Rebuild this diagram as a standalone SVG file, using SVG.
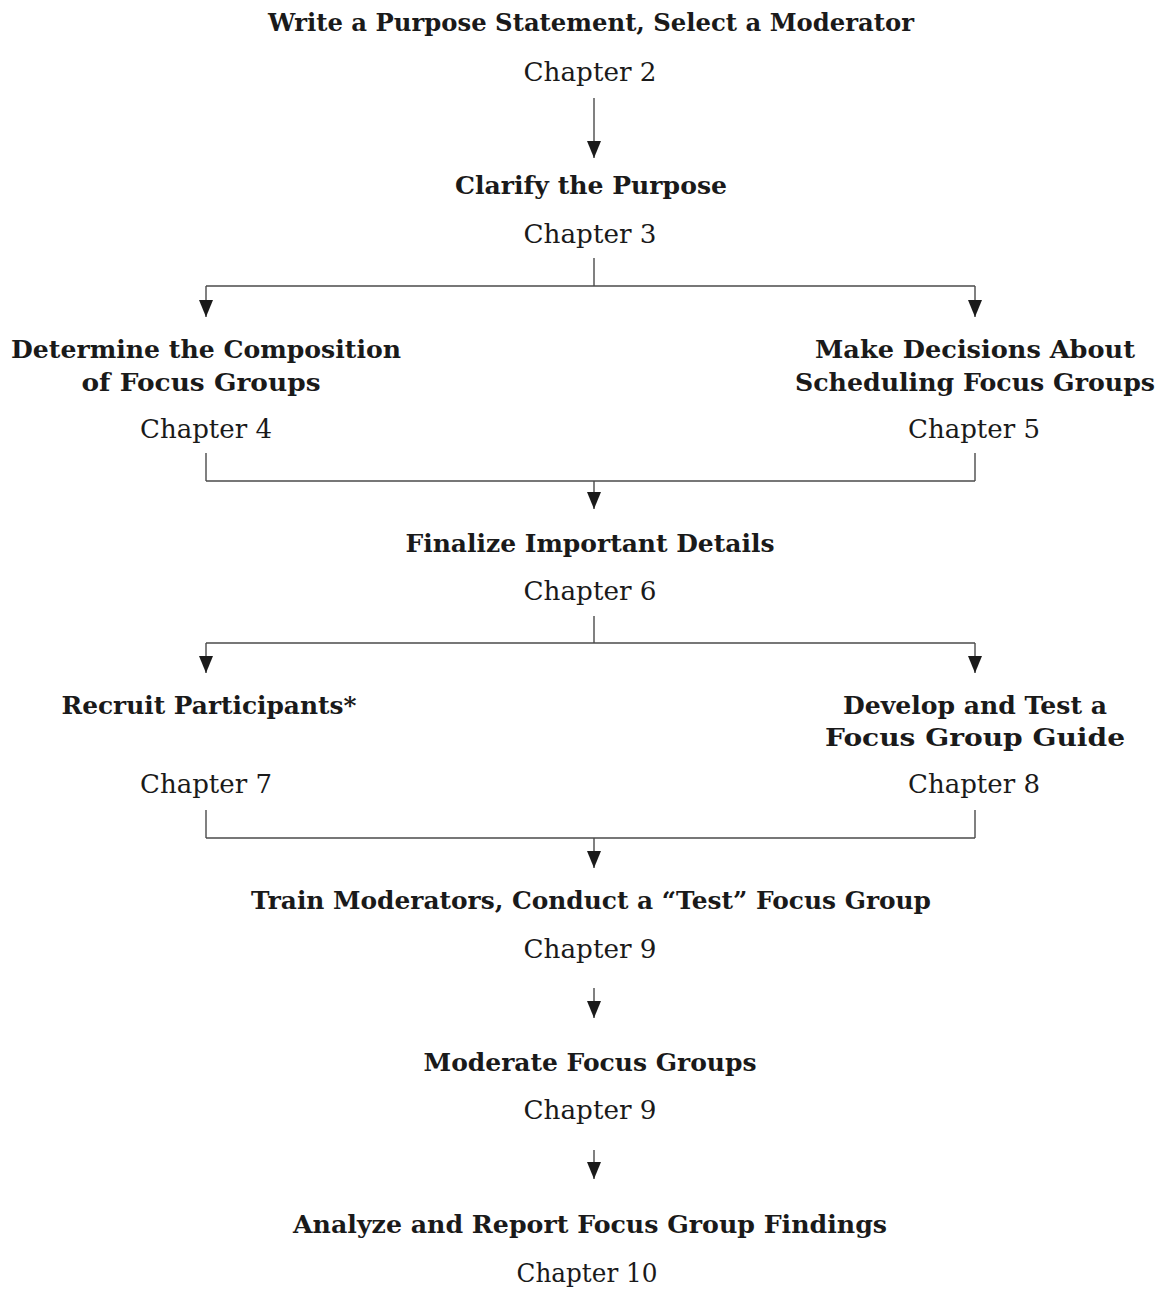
<svg xmlns="http://www.w3.org/2000/svg" width="1164" height="1289" viewBox="0 0 1164 1289">
<style>
.t{font-family:"DejaVu Serif","Liberation Serif",serif;font-weight:bold;font-size:25px;fill:#1a1a1a;text-anchor:middle}
.c{font-family:"DejaVu Serif","Liberation Serif",serif;font-size:26px;fill:#1a1a1a;text-anchor:middle}
.ln{stroke:#4a4a4a;stroke-width:1.4;fill:none}
</style>
<defs>
<marker id="ah" viewBox="0 0 17 14" refX="17" refY="7" markerWidth="17" markerHeight="14" markerUnits="userSpaceOnUse" orient="auto">
<path d="M0,0 L17,7 L0,14 z" fill="#1a1a1a"/>
</marker>
</defs>
<rect width="1164" height="1289" fill="#fff"/>
<g id="connectors">
<line class="ln" x1="594" y1="98" x2="594" y2="158" marker-end="url(#ah)"/>
<line class="ln" x1="594" y1="258" x2="594" y2="286"/>
<line class="ln" x1="206" y1="286" x2="975" y2="286"/>
<line class="ln" x1="206" y1="286" x2="206" y2="317" marker-end="url(#ah)"/>
<line class="ln" x1="975" y1="286" x2="975" y2="317" marker-end="url(#ah)"/>
<line class="ln" x1="206" y1="453" x2="206" y2="481"/>
<line class="ln" x1="975" y1="453" x2="975" y2="481"/>
<line class="ln" x1="206" y1="481" x2="975" y2="481"/>
<line class="ln" x1="594" y1="481" x2="594" y2="509" marker-end="url(#ah)"/>
<line class="ln" x1="594" y1="616" x2="594" y2="643"/>
<line class="ln" x1="206" y1="643" x2="975" y2="643"/>
<line class="ln" x1="206" y1="643" x2="206" y2="673" marker-end="url(#ah)"/>
<line class="ln" x1="975" y1="643" x2="975" y2="673" marker-end="url(#ah)"/>
<line class="ln" x1="206" y1="810" x2="206" y2="838"/>
<line class="ln" x1="975" y1="810" x2="975" y2="838"/>
<line class="ln" x1="206" y1="838" x2="975" y2="838"/>
<line class="ln" x1="594" y1="838" x2="594" y2="868" marker-end="url(#ah)"/>
<line class="ln" x1="594" y1="988" x2="594" y2="1018" marker-end="url(#ah)"/>
<line class="ln" x1="594" y1="1150" x2="594" y2="1179" marker-end="url(#ah)"/>
</g>
<g id="n1">
<text class="t" x="591" y="31" textLength="646" lengthAdjust="spacingAndGlyphs">Write a Purpose Statement, Select a Moderator</text>
<text class="c" x="590" y="81" textLength="133" lengthAdjust="spacingAndGlyphs">Chapter 2</text>
</g>
<g id="n2">
<text class="t" x="591" y="194" textLength="272" lengthAdjust="spacingAndGlyphs">Clarify the Purpose</text>
<text class="c" x="590" y="243" textLength="133" lengthAdjust="spacingAndGlyphs">Chapter 3</text>
</g>
<g id="n3">
<text class="t" x="206" y="358" textLength="390" lengthAdjust="spacingAndGlyphs">Determine the Composition</text>
<text class="t" x="201" y="391" textLength="239" lengthAdjust="spacingAndGlyphs">of Focus Groups</text>
<text class="c" x="206" y="438" textLength="132" lengthAdjust="spacingAndGlyphs">Chapter 4</text>
</g>
<g id="n4">
<text class="t" x="975" y="358" textLength="320" lengthAdjust="spacingAndGlyphs">Make Decisions About</text>
<text class="t" x="975" y="391" textLength="360" lengthAdjust="spacingAndGlyphs">Scheduling Focus Groups</text>
<text class="c" x="974" y="438" textLength="132" lengthAdjust="spacingAndGlyphs">Chapter 5</text>
</g>
<g id="n5">
<text class="t" x="590" y="552" textLength="369" lengthAdjust="spacingAndGlyphs">Finalize Important Details</text>
<text class="c" x="590" y="600" textLength="133" lengthAdjust="spacingAndGlyphs">Chapter 6</text>
</g>
<g id="n6">
<text class="t" x="209" y="714" textLength="295" lengthAdjust="spacingAndGlyphs">Recruit Participants*</text>
<text class="c" x="206" y="793" textLength="132" lengthAdjust="spacingAndGlyphs">Chapter 7</text>
</g>
<g id="n7">
<text class="t" x="975" y="714" textLength="264" lengthAdjust="spacingAndGlyphs">Develop and Test a</text>
<text class="t" x="975" y="746" textLength="300" lengthAdjust="spacingAndGlyphs">Focus Group Guide</text>
<text class="c" x="974" y="793" textLength="132" lengthAdjust="spacingAndGlyphs">Chapter 8</text>
</g>
<g id="n8">
<text class="t" x="591" y="909" textLength="680" lengthAdjust="spacingAndGlyphs">Train Moderators, Conduct a “Test” Focus Group</text>
<text class="c" x="590" y="958" textLength="133" lengthAdjust="spacingAndGlyphs">Chapter 9</text>
</g>
<g id="n9">
<text class="t" x="590" y="1071" textLength="333" lengthAdjust="spacingAndGlyphs">Moderate Focus Groups</text>
<text class="c" x="590" y="1119" textLength="133" lengthAdjust="spacingAndGlyphs">Chapter 9</text>
</g>
<g id="n10">
<text class="t" x="590" y="1233" textLength="594" lengthAdjust="spacingAndGlyphs">Analyze and Report Focus Group Findings</text>
<text class="c" x="587" y="1282" textLength="141" lengthAdjust="spacingAndGlyphs">Chapter 10</text>
</g>
</svg>
